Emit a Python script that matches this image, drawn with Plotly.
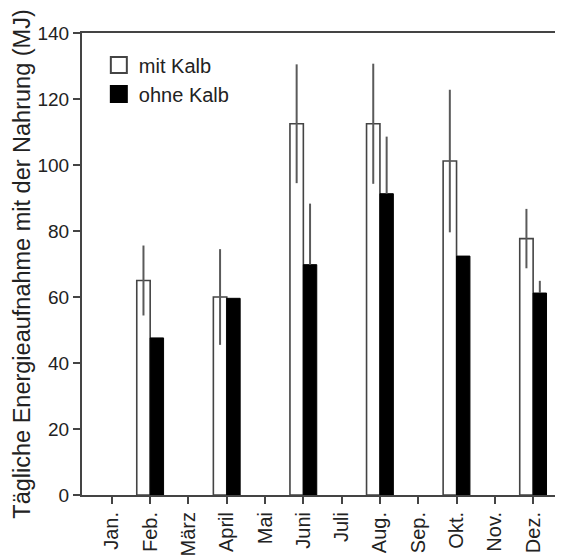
import plotly.graph_objects as go

months = ["Jan.", "Feb.", "März", "April", "Mai", "Juni", "Juli", "Aug.", "Sep.", "Okt.", "Nov.", "Dez."]
mit_kalb = [None, 65.0, None, 60.0, None, 112.5, None, 112.5, None, 101.2, None, 77.7]
mit_kalb_sd = [0, 10.6, 0, 14.5, 0, 18.0, 0, 18.2, 0, 21.6, 0, 9.0]
ohne_kalb = [None, 47.6, None, 59.6, None, 69.8, None, 91.3, None, 72.4, None, 61.2]
ohne_kalb_sd = [0, 0, 0, 0, 0, 18.5, 0, 17.3, 0, 0, 0, 3.7]
y_ticks = [0, 20, 40, 60, 80, 100, 120, 140]

FONT = "Liberation Sans, Arial, sans-serif"
LINE = "#444444"
ERR = "#5a5a5a"

fig = go.Figure()
fig.add_trace(go.Bar(
    x=months, y=mit_kalb, name="mit Kalb", showlegend=False,
    marker=dict(color="white", line=dict(color=LINE, width=1.6)),
    error_y=dict(type="data", array=mit_kalb_sd, symmetric=True,
                 color=ERR, thickness=2, width=0),
))
fig.add_trace(go.Bar(
    x=months, y=ohne_kalb, name="ohne Kalb", showlegend=False,
    marker=dict(color="black", line=dict(color="black", width=1)),
    error_y=dict(type="data", array=ohne_kalb_sd, arrayminus=[0] * len(months),
                 symmetric=False, color=ERR, thickness=2, width=0),
))
# legend entries
fig.add_trace(go.Scatter(
    x=[None], y=[None], mode="markers", name="mit Kalb",
    marker=dict(symbol="square", size=16, color="white", line=dict(color=LINE, width=2)),
))
fig.add_trace(go.Scatter(
    x=[None], y=[None], mode="markers", name="ohne Kalb",
    marker=dict(symbol="square", size=16, color="black", line=dict(color="black", width=2)),
))

fig.update_layout(
    width=555, height=552,
    margin=dict(l=74, r=0, t=25, b=65),
    paper_bgcolor="white", plot_bgcolor="white",
    barmode="group", bargap=0.3, bargroupgap=0,
    font=dict(family=FONT, color="#222222"),
    legend=dict(x=0.035, y=0.973, xanchor="left", yanchor="top",
                font=dict(size=20, family=FONT, color="#222222"),
                itemsizing="trace", bgcolor="rgba(0,0,0,0)", tracegroupgap=0),
    xaxis=dict(
        type="category", categoryorder="array", categoryarray=months,
        range=[-0.78, 11.78],
        showline=True, linecolor=LINE, linewidth=2, mirror=True,
        ticks="outside", ticklen=7, tickwidth=1.5, tickcolor=LINE,
        tickangle=-90, tickfont=dict(size=20, family=FONT, color="#222222"),
        showgrid=False, zeroline=False,
    ),
    yaxis=dict(
        range=[0, 140], tickvals=y_ticks,
        showline=True, linecolor=LINE, linewidth=2,
        ticks="outside", ticklen=7, tickwidth=1.5, tickcolor=LINE,
        tickfont=dict(size=19, family=FONT, color="#222222"),
        showgrid=False, zeroline=False,
        title=dict(text="Tägliche Energieaufnahme mit der Nahrung (MJ)",
                   font=dict(size=23.5, family=FONT, color="#222222"), standoff=0),
    ),
)

fig.write_html("out.html")
